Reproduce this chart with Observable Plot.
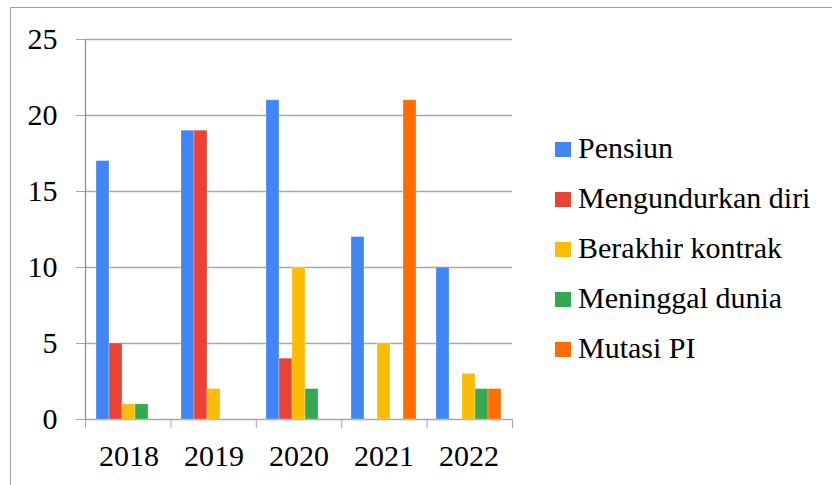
<!DOCTYPE html>
<html>
<head>
<meta charset="utf-8">
<script src="https://cdn.jsdelivr.net/npm/d3@7"></script>
<script src="https://cdn.jsdelivr.net/npm/@observablehq/plot@0.6"></script>
<style>
  html, body { margin: 0; padding: 0; background: #fff; }
  #wrap { position: relative; width: 832px; height: 485px; overflow: hidden; background: #fff; font-family: 'Liberation Serif', 'Times New Roman', Times, 'Nimbus Roman', 'Noto Serif', 'DejaVu Serif', FreeSerif, serif; }
  #border { position: absolute; left: 10px; top: 7px; width: 900px; height: 600px; border: 1px solid #a0a0a0; box-sizing: border-box; }
  .layer { position: absolute; left: 0; top: 0; }
  .legend-row { position: absolute; left: 555px; height: 30px; }
  .legend-sw { position: absolute; left: 0; width: 16px; height: 15px; }
  .legend-tx { position: absolute; left: 23px; top: 0; line-height: 30px; font-size: 30px; white-space: nowrap; color: #000; font-family: inherit; }
</style>
</head>
<body>
<div id="wrap">
  <div id="border"></div>
  <div id="back" class="layer"></div>
  <div id="front" class="layer"></div>
  <div id="legend" class="layer"></div>
</div>
<script>
// ---- data ----
const years = ["2018", "2019", "2020", "2021", "2022"];
const series = ["Pensiun", "Mengundurkan diri", "Berakhir kontrak", "Meninggal dunia", "Mutasi PI"];
const pensiun      = [17, 19, 21, 12, 10];
const mengundurkan = [5, 19, 4, 0, 0];
const berakhir     = [1, 2, 10, 5, 3];
const meninggal    = [1, 0, 2, 0, 2];
const mutasi       = [0, 0, 0, 21, 2];
const colors = ["#4285F4", "#EA4335", "#FBBC04", "#34A853", "#FF6D01"];
const yTicks = [0, 5, 10, 15, 20, 25];

// ---- table built from the arrays ----
const valuesBySeries = [pensiun, mengundurkan, berakhir, meninggal, mutasi];
const rows = [];
years.forEach((yr, i) => {
  series.forEach((s, j) => {
    rows.push({year: yr, series: s, value: valuesBySeries[j][i]});
  });
});
const boundaries = years.map((_, i) => i).concat([years.length]);

const W = 832, H = 485;
const margins = {marginLeft: 85, marginRight: 320, marginTop: 39, marginBottom: 66};
const FONT = "'Liberation Serif', 'Times New Roman', Times, 'Nimbus Roman', 'Noto Serif', 'DejaVu Serif', FreeSerif, serif";
const font = {fontFamily: FONT, fontSize: "30px"};

// ---- background: grid, axis lines, tick marks, y labels ----
const back = Plot.plot({
  width: W, height: H, ...margins,
  style: {...font, background: "transparent", color: "#a6a6a6", overflow: "visible"},
  x: {domain: [0, years.length], ticks: boundaries, tickSize: 9, tickFormat: () => "", label: null},
  y: {domain: [0, 25], ticks: yTicks, tickSize: 9, tickFormat: () => "", label: null},
  marks: [
    Plot.ruleY(yTicks, {y: d => d, stroke: "#a8a8a8", strokeWidth: 1.5}),
    Plot.ruleX([0], {x: d => d, stroke: "#8c8c8c", strokeWidth: 1.2}),
    Plot.text(yTicks, {y: d => d, text: d => String(d), frameAnchor: "left", dx: -28, textAnchor: "end", fill: "#000", fontSize: 30, fontFamily: FONT})
  ]
});
document.getElementById("back").appendChild(back);

// ---- foreground: bars, faceted by year ----
const front = Plot.plot({
  width: W, height: H, ...margins,
  style: {...font, background: "transparent", color: "#000", overflow: "visible"},
  fx: {domain: years, padding: 0, axis: "bottom", tickSize: 0, tickPadding: 25, label: null},
  x: {domain: series, paddingInner: 0, paddingOuter: 0.75, axis: null},
  y: {domain: [0, 25], axis: null},
  color: {domain: series, range: colors},
  marks: [
    Plot.barY(rows.filter(d => d.value > 0), {fx: "year", x: "series", y: "value", fill: "series", stroke: "#ffffff", strokeOpacity: 0.35, strokeWidth: 0.8})
  ]
});
document.getElementById("front").appendChild(front);

// ---- legend ----
const legend = document.getElementById("legend");
series.forEach((s, i) => {
  const row = document.createElement("div");
  row.className = "legend-row";
  row.style.top = (133 + 50 * i) + "px";
  const sw = document.createElement("div");
  sw.className = "legend-sw";
  sw.style.background = colors[i];
  sw.style.top = "9px";
  const tx = document.createElement("div");
  tx.className = "legend-tx";
  tx.textContent = s;
  row.appendChild(sw);
  row.appendChild(tx);
  legend.appendChild(row);
});
</script>
</body>
</html>
